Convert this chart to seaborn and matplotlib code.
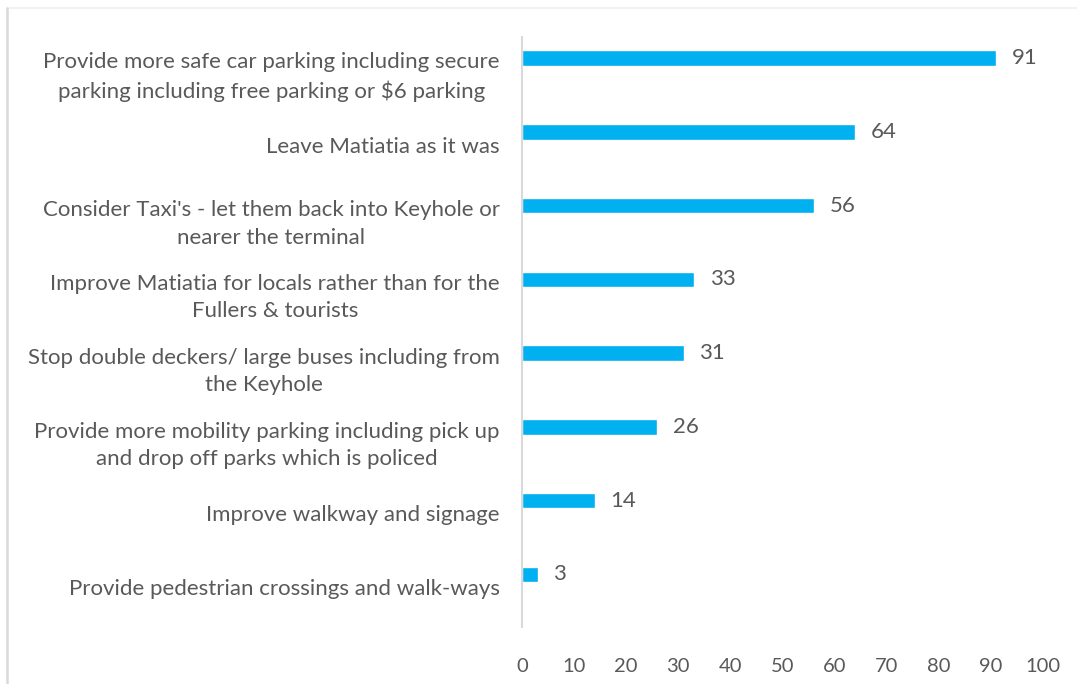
import matplotlib
matplotlib.use("Agg")
import matplotlib.pyplot as plt
from matplotlib.lines import Line2D
import seaborn as sns
import pandas as pd

categories = [
    "Provide more safe car parking including secure\nparking including free parking or $6 parking",
    "Leave Matiatia as it was",
    "Consider Taxi's - let them back into Keyhole or\nnearer the terminal",
    "Improve Matiatia for locals rather than for the\nFullers & tourists",
    "Stop double deckers/ large buses including from\nthe Keyhole",
    "Provide more mobility parking including pick up\nand drop off parks which is policed",
    "Improve walkway and signage",
    "Provide pedestrian crossings and walk-ways",
]
counts = [91, 64, 56, 33, 31, 26, 14, 3]
x_ticks = [0, 10, 20, 30, 40, 50, 60, 70, 80, 90, 100]

BAR_COLOR = "#00B0F0"
TEXT_COLOR = "#595959"
FONT = "Lato"

sns.set_theme(style="white")
plt.rcParams["font.family"] = [FONT, "DejaVu Sans"]

df = pd.DataFrame({"category": categories, "count": counts})

fig = plt.figure(figsize=(10.77, 6.84), dpi=100)
W, H = 1077, 684
ax = fig.add_axes([522 / W, 1 - 627 / H, (1043 - 522) / W, (627 - 37) / H])

sns.barplot(data=df, y="category", x="count", orient="h", color=BAR_COLOR,
            width=0.21, saturation=1, ax=ax, errorbar=None)

# bars sit in the upper part of each category band
band_shift = 0.215
label_shift = 0.175
n = len(categories)
ax.set_ylim(n - 0.5 + band_shift, -0.5 + band_shift)
ax.set_yticks([i + label_shift for i in range(n)])
ax.set_yticklabels(categories)
for lab in ax.get_yticklabels():
    lab.set_multialignment("center")
    lab.set_linespacing(1.45)
    lab.set_fontsize(16)
    lab.set_color(TEXT_COLOR)

ax.set_xlim(0, 100)
ax.set_xticks(x_ticks)
ax.set_xticklabels([str(t) for t in x_ticks], fontsize=14.5, color=TEXT_COLOR)
ax.tick_params(axis="y", length=0, pad=16)
ax.tick_params(axis="x", length=0, pad=22)
ax.set_xlabel("")
ax.set_ylabel("")

for s in ["top", "right", "bottom"]:
    ax.spines[s].set_visible(False)
ax.spines["left"].set_color("#D9D9D9")
ax.spines["left"].set_linewidth(1.5)

for i, v in enumerate(counts):
    ax.text(v + 3.0, i, str(v), va="center", ha="left",
            fontsize=16, color=TEXT_COLOR)

# chart-area border (top and left edges)
fig.add_artist(Line2D([7 / W, 1], [1 - 8 / H, 1 - 8 / H], color="#EFEFEF", lw=1.2))
fig.add_artist(Line2D([7 / W, 7 / W], [0, 1 - 8 / H], color="#D9D9D9", lw=1.8))

fig.savefig("out.png", dpi=100)
